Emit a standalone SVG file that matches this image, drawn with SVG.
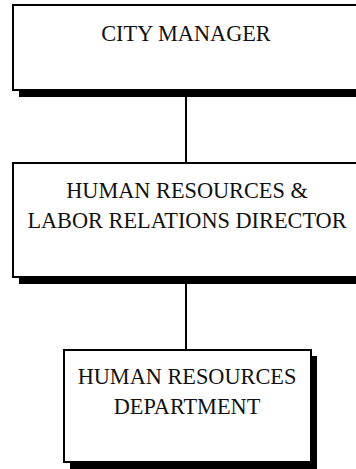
<svg xmlns="http://www.w3.org/2000/svg" width="356" height="469" viewBox="0 0 356 469">
<style>
.box{fill:#fff;stroke:#000;stroke-width:2}
.shadow{fill:#000}
.lbl{font-family:"Liberation Serif","Times New Roman",serif;font-size:22.3px;fill:#111;text-anchor:middle}
.conn{stroke:#000;stroke-width:2;fill:none}
</style>
<rect width="356" height="469" fill="#fff"/>
<g id="connectors">
<line class="conn" x1="186" y1="97" x2="186" y2="163"/>
<line class="conn" x1="186" y1="284" x2="186" y2="349"/>
</g>
<g id="city-manager">
<rect class="shadow" x="19" y="11" width="360" height="86"/>
<rect class="box" x="13" y="5" width="360" height="85"/>
<text class="lbl" x="186" y="41">CITY MANAGER</text>
</g>
<g id="hr-director">
<rect class="shadow" x="19" y="169" width="360" height="115"/>
<rect class="box" x="13" y="163" width="360" height="114"/>
<text class="lbl" x="187" y="198">HUMAN RESOURCES &amp;</text>
<text class="lbl" x="187" y="228">LABOR RELATIONS DIRECTOR</text>
</g>
<g id="hr-department">
<rect class="shadow" x="70" y="356" width="247" height="113"/>
<rect class="box" x="64" y="350" width="247" height="112"/>
<text class="lbl" x="187" y="384">HUMAN RESOURCES</text>
<text class="lbl" x="187" y="414">DEPARTMENT</text>
</g>
</svg>
